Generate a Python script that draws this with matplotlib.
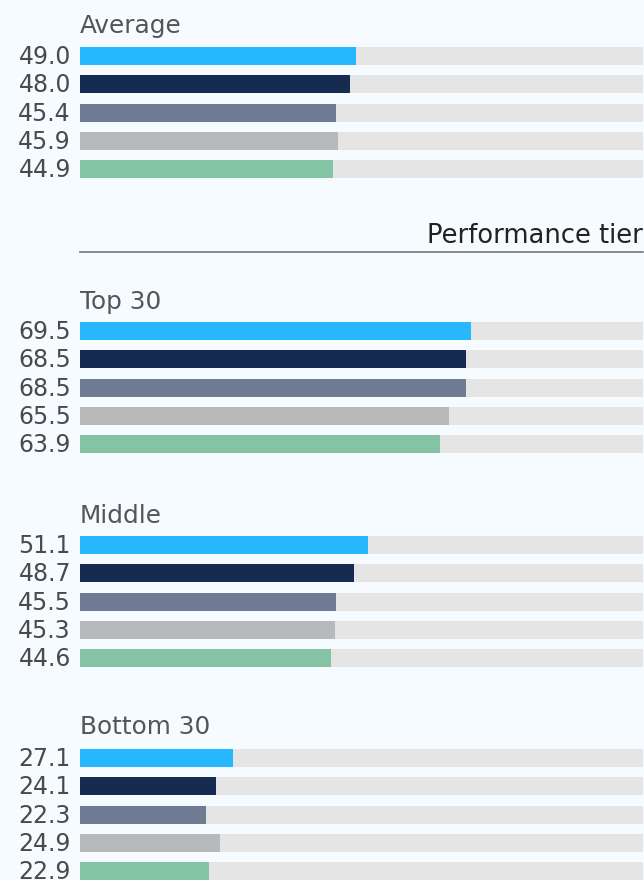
import matplotlib.pyplot as plt

# data
groups = ['Average', 'Top 30', 'Middle', 'Bottom 30']
values = [
    [49.0, 48.0, 45.4, 45.9, 44.9],
    [69.5, 68.5, 68.5, 65.5, 63.9],
    [51.1, 48.7, 45.5, 45.3, 44.6],
    [27.1, 24.1, 22.3, 24.9, 22.9],
]
colors = ['#27b7fc', '#152b4f', '#6e7b93', '#b8b9bb', '#84c4a5']
bg = '#f6fbff'

# pixel layout (y from top)
title_y = [26, 302, 516, 727]
first_bar = [56, 331, 545, 758]
step = 28.3
bar_h = 18

plt.rcParams['font.family'] = ['DejaVu Sans']

fig = plt.figure(figsize=(6.44, 8.8), dpi=100, facecolor=bg)
ax = fig.add_axes([80/644, 0, 563/644, 1])
ax.set_xlim(0, 100)
ax.set_ylim(880, 0)
ax.axis('off')
ax.set_facecolor(bg)

for g, name in enumerate(groups):
    ax.text(0, title_y[g], name, fontsize=17.8, color='#555555', va='center', ha='left')
    for i, v in enumerate(values[g]):
        y = first_bar[g] + i * step
        ax.barh(y, 100, height=bar_h, color='#e5e5e5', left=0)
        ax.barh(y, v, height=bar_h, color=colors[i], left=0)
        ax.text(-1.6, y + 1, f'{v:.1f}', fontsize=17, color='#4a4a4a', va='center', ha='right')

# performance tier heading
ax.text(100, 236, 'Performance tier', fontsize=18.5, color='#222222', va='center', ha='right')
ax.plot([0, 100], [252, 252], color='#777777', lw=1.2, clip_on=False)

fig.savefig('out.png', dpi=100, facecolor=bg)
